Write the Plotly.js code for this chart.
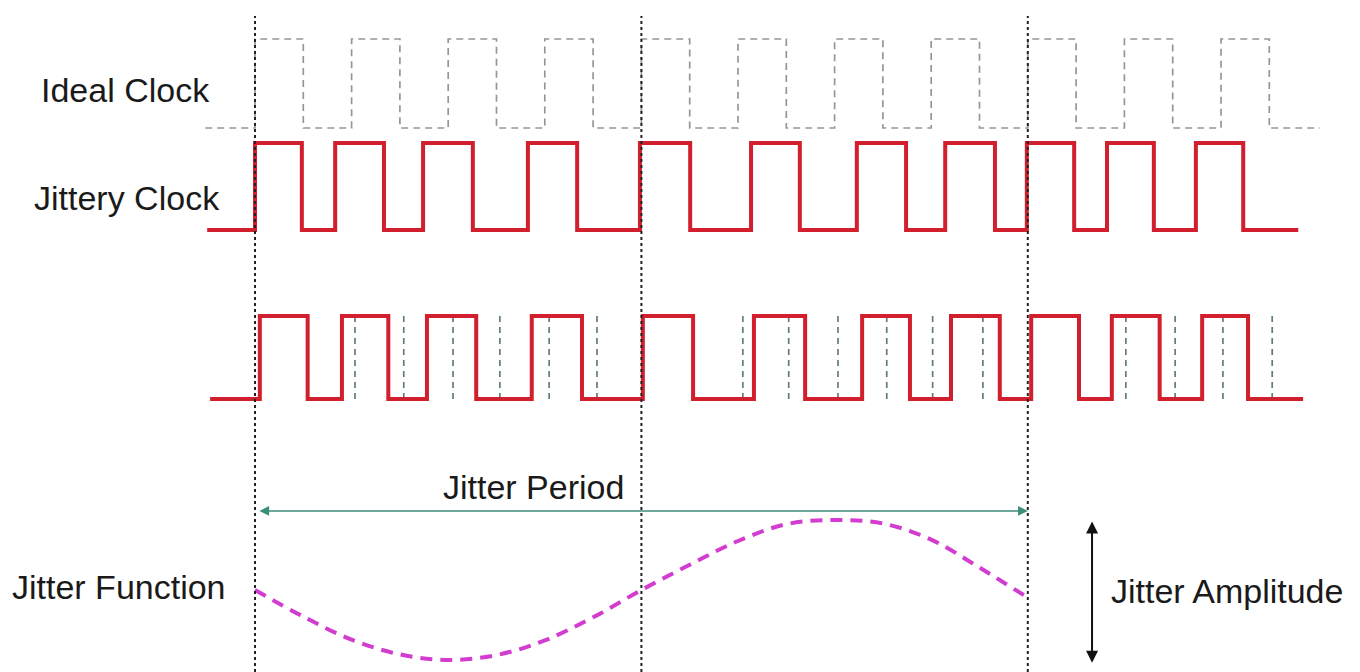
<!DOCTYPE html>
<html>
<head>
<meta charset="utf-8">
<script src="https://cdn.plot.ly/plotly-3.0.1.min.js"></script>
<style>html,body{margin:0;padding:0;background:#fff;}#chart{width:1360px;height:672px;}</style>
</head>
<body>
<div id="chart"></div>
<script>
// ---- data (time in half-periods of the ideal clock) ----
const labels = ["Ideal Clock", "Jittery Clock", "Jitter Function", "Jitter Period", "Jitter Amplitude"];

const idealStart = -1.03;
const idealEdges = [0, 1, 2, 3, 4, 5, 6, 7, 8, 9, 10, 11, 12, 13, 14, 15, 16, 17, 18, 19, 20, 21];
const idealEnd = 22.05;

const jitteryStart = -0.99;
const jitteryEdges = [0, 0.97, 1.66, 2.67, 3.48, 4.51, 5.65, 6.67, 7.97, 9.01, 10.27, 11.28,
                      12.46, 13.48, 14.29, 15.32, 15.98, 16.96, 17.64, 18.61, 19.48, 20.46];
const jitteryEnd = 21.6;

const overlayStart = -0.93;
const overlayEdges = [0.10, 1.09, 1.80, 2.76, 3.56, 4.58, 5.73, 6.77, 8.03, 9.07, 10.33, 11.39,
                      12.57, 13.56, 14.41, 15.42, 16.07, 17.06, 17.74, 18.73, 19.61, 20.56];
const overlayEnd = 21.7;

const refEdges = [2.07, 3.08, 4.10, 5.07, 6.09, 7.08, 10.10, 11.05, 12.07, 13.08, 14.03, 15.07,
                  18.03, 19.05, 20.04, 21.06];

const periodMarks = [0, 8, 16];

const jitterT   = [0, 1, 2, 3, 4, 5, 6, 7, 8, 9, 10, 11, 12, 13, 14, 15, 16];
const jitterVal = [0, -0.38, -0.71, -0.92, -1.0, -0.93, -0.72, -0.39, 0.0, 0.36, 0.70, 0.94, 1.0, 0.95, 0.72, 0.32, -0.11];
const jitterAmp = 1.0;
const periodArrowLevel = 1.13;
const amplitudeArrowT = 17.33;

// ---- layout helpers ----
const W = 1360, H = 672;
const T0PX = 255, PXPERT = 48.3;
function levelAxis(lowPx, highPx, pad, extra) {
  const f = px => (lowPx - px) / (lowPx - highPx);
  const top = highPx - pad, bot = lowPx + pad;
  return Object.assign({
    domain: [1 - bot / H, 1 - top / H],
    range: [f(bot), f(top)],
    visible: false, showgrid: false, zeroline: false, fixedrange: true, anchor: 'x'
  }, extra || {});
}
function stepWave(start, edges, end) {
  const x = [start], y = [0];
  let lvl = 0;
  edges.forEach(e => { lvl = 1 - lvl; x.push(e); y.push(lvl); });
  x.push(end); y.push(lvl);
  return {x, y};
}
function verticals(edges) {
  const x = [], y = [];
  edges.forEach(e => { x.push(e, e, null); y.push(0, 1, null); });
  return {x, y};
}

const ideal = stepWave(idealStart, idealEdges, idealEnd);
const jittery = stepWave(jitteryStart, jitteryEdges, jitteryEnd);
const overlay = stepWave(overlayStart, overlayEdges, overlayEnd);
const refs = verticals(refEdges);

const RED = '#d21f2e';
const traces = [
  {x: ideal.x, y: ideal.y, xaxis: 'x', yaxis: 'y', mode: 'lines', line: {shape: 'hv', color: '#969696', width: 1.7, dash: '7px,5px'}, hoverinfo: 'skip'},
  {x: jittery.x, y: jittery.y, xaxis: 'x', yaxis: 'y2', mode: 'lines', line: {shape: 'hv', color: RED, width: 4}, hoverinfo: 'skip'},
  {x: refs.x, y: refs.y, xaxis: 'x', yaxis: 'y3', mode: 'lines', line: {color: '#5f806e', width: 1.7, dash: '6px,5px'}, hoverinfo: 'skip'},
  {x: overlay.x, y: overlay.y, xaxis: 'x', yaxis: 'y3', mode: 'lines', line: {shape: 'hv', color: RED, width: 4}, hoverinfo: 'skip'},
  {x: jitterT, y: jitterVal, xaxis: 'x', yaxis: 'y4', mode: 'lines', line: {shape: 'spline', color: '#d23ccf', width: 4, dash: '12px,8px'}, hoverinfo: 'skip'}
];

const shapes = periodMarks.map(t => ({
  type: 'line', xref: 'x', yref: 'paper', x0: t, x1: t, y0: 0, y1: 1 - 16 / H,
  line: {color: '#222222', width: 2, dash: 'dot'}, layer: 'above'
}));

const FONT = {family: 'Liberation Sans, Arial, sans-serif', size: 34, color: '#1a1a1a'};
function label(text, leftPx, midPx) {
  return {text, xref: 'paper', yref: 'paper', x: leftPx / W, y: 1 - midPx / H,
          xanchor: 'left', yanchor: 'middle', showarrow: false, font: FONT};
}
const annotations = [
  label(labels[0], 39, 90),
  label(labels[1], 32, 198),
  label(labels[2], 10, 587),
  label(labels[3], 441, 487),
  label(labels[4], 1109, 591),
  {text: '', xref: 'x', yref: 'y4', x: periodMarks[2], y: periodArrowLevel,
   axref: 'x', ayref: 'y4', ax: periodMarks[0] + 0.06, ay: periodArrowLevel,
   showarrow: true, arrowside: 'end+start', arrowhead: 2, arrowsize: 1.3, arrowwidth: 1.5,
   arrowcolor: '#3b8d7c', standoff: 0, startstandoff: 0},
  {text: '', xref: 'x', yref: 'y4', x: amplitudeArrowT, y: -jitterAmp - 0.04,
   axref: 'x', ayref: 'y4', ax: amplitudeArrowT, ay: jitterAmp,
   showarrow: true, arrowside: 'end+start', arrowhead: 2, arrowsize: 1.2, arrowwidth: 2,
   arrowcolor: '#111111', standoff: 0, startstandoff: 0}
];

const layout = {
  width: W, height: H,
  margin: {l: 0, r: 0, t: 0, b: 0, pad: 0},
  paper_bgcolor: '#ffffff', plot_bgcolor: 'rgba(0,0,0,0)',
  showlegend: false,
  xaxis: {range: [-T0PX / PXPERT, (W - T0PX) / PXPERT], domain: [0, 1], visible: false,
          showgrid: false, zeroline: false, fixedrange: true},
  yaxis: levelAxis(128, 39, 14),
  yaxis2: levelAxis(230, 143, 14),
  yaxis3: levelAxis(399, 316, 14),
  yaxis4: (function () {
    const f = px => (590 - px) / 70;
    return {domain: [0, 1 - 480 / H], range: [f(H), f(480)], visible: false,
            showgrid: false, zeroline: false, fixedrange: true, anchor: 'x'};
  })(),
  shapes, annotations
};

Plotly.newPlot('chart', traces, layout, {displayModeBar: false, staticPlot: true});
</script>
</body>
</html>
